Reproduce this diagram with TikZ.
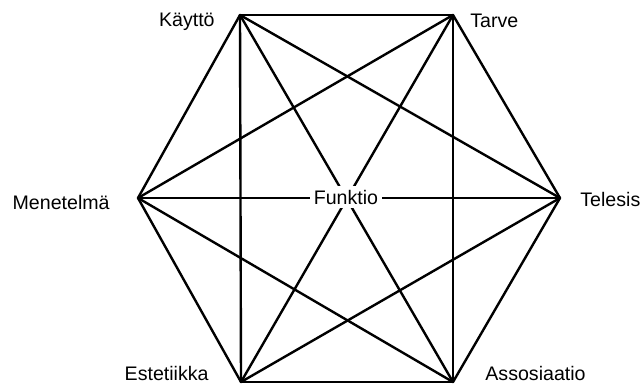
\documentclass[tikz,border=0pt]{standalone}
\usepackage{fontspec}
\setmainfont{Liberation Sans}
\usetikzlibrary{positioning}
\tikzset{
  edgeln/.style={line width=1.2pt, line cap=round, line join=round},
  vlabel/.style={inner sep=0pt, font=\fontsize{9.8}{12}\selectfont},
  hublabel/.style={fill=white, inner sep=2pt, font=\fontsize{9.8}{12}\selectfont},
}
\begin{document}
\begin{tikzpicture}[x=0.5pt, y=-0.5pt]
    \useasboundingbox (0,0) rectangle (643,385);
    % Corners of the hexagon
    \coordinate (kaytto) at (240,15);
    \coordinate (tarve)  at (453,15);
    \coordinate (telesis) at (560,198);
    \coordinate (assos)  at (453,382);
    \coordinate (estet)  at (241,382);
    \coordinate (menet)  at (138,198);
    % Every corner joined to every other one
    \foreach \a/\b in {kaytto/tarve, kaytto/telesis, kaytto/assos, kaytto/estet, kaytto/menet,
                       tarve/telesis, tarve/assos, tarve/estet, tarve/menet,
                       telesis/assos, telesis/estet, telesis/menet,
                       assos/estet, assos/menet,
                       estet/menet}
      \draw[edgeln] (\a) -- (\b);
    % Corner labels
    \node[vlabel, left=12.5pt of kaytto, yshift=-3.5pt] (lkaytto) {Käyttö};
    \node[vlabel, right=8.5pt of tarve, yshift=-3pt] (ltarve) {Tarve};
    \node[vlabel, right=10pt of telesis, yshift=-0.5pt] (ltelesis) {Telesis};
    \node[vlabel, right=16pt of assos, yshift=4.5pt] (lassos) {Assosiaatio};
    \node[vlabel, left=16pt of estet, yshift=4.5pt] (lestet) {Estetiikka};
    \node[vlabel, left=14pt of menet, yshift=-2pt] (lmenet) {Menetelmä};
    % Centre label over the crossing
    \node[hublabel] (funktio) at (346,197) {Funktio};
\end{tikzpicture}
\end{document}
